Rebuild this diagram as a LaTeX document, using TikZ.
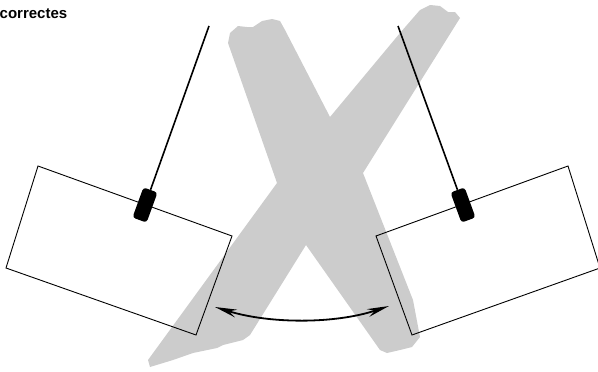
\documentclass[tikz,border=0pt]{standalone}
\usepackage{fontspec}
\setmainfont{Liberation Sans}
\usetikzlibrary{arrows.meta}
\definecolor{xgray}{HTML}{CCCCCC}
\begin{document}
\begin{tikzpicture}[x=1pt,y=-1pt,
  plate/.style={draw=black,line width=0.9pt,line join=miter},
  sensorbox/.style={fill=black,draw=none,rounded corners=3pt,minimum width=15pt,minimum height=32pt,inner sep=0pt},
  cable/.style={draw=black,line width=1.6pt},
  swing/.style={draw=black,line width=1.8pt,{Stealth[length=22pt,width=8pt]}-{Stealth[length=22pt,width=8pt]}},
  lbl/.style={font=\bfseries\fontsize{15}{15}\selectfont,inner sep=0pt,anchor=base west}]
\useasboundingbox (0,0) rectangle (598,372);
% gray X
\fill[xgray] (228,43) -- (230,33) -- (238,26) -- (247,27) -- (253,27) -- (262,21) -- (272,19) -- (280,21) -- (285,30)
  -- (330,117) -- (400,33) -- (420,10) -- (430,5) -- (440,6) -- (448,12) -- (455,12) -- (460,18)
  -- (363,173) -- (413,300) -- (420,337) -- (412,347) -- (400,350) -- (387,353) -- (380,350)
  -- (306,245) -- (250,335) -- (243,340) -- (223,345) -- (217,348) -- (193,353) -- (173,360) -- (150,367) -- (148,360)
  -- (277,183) -- cycle;
% plates
\draw[plate] (38,166) -- (232,236) -- (196,335) -- (6,268) -- cycle;
\draw[plate] (568,166) -- (376,236) -- (412,335) -- (600,268) -- cycle;
% sensors
\node[sensorbox,rotate=-20] (ls) at (145,205) {};
\node[sensorbox,rotate=20] (rs) at (463,205) {};
\coordinate (lt) at (209,26);
\coordinate (rt) at (398,26);
\draw[cable] (lt) -- (ls.north);
\draw[cable] (rt) -- (rs.north);
% arrow
\coordinate (al) at (215,307);
\coordinate (ar) at (389,306);
\draw[swing] (al) .. controls (270,324) and (335,324) .. (ar);
\node[lbl] (t) at (-0.5,19) {correctes};
\end{tikzpicture}
\end{document}
